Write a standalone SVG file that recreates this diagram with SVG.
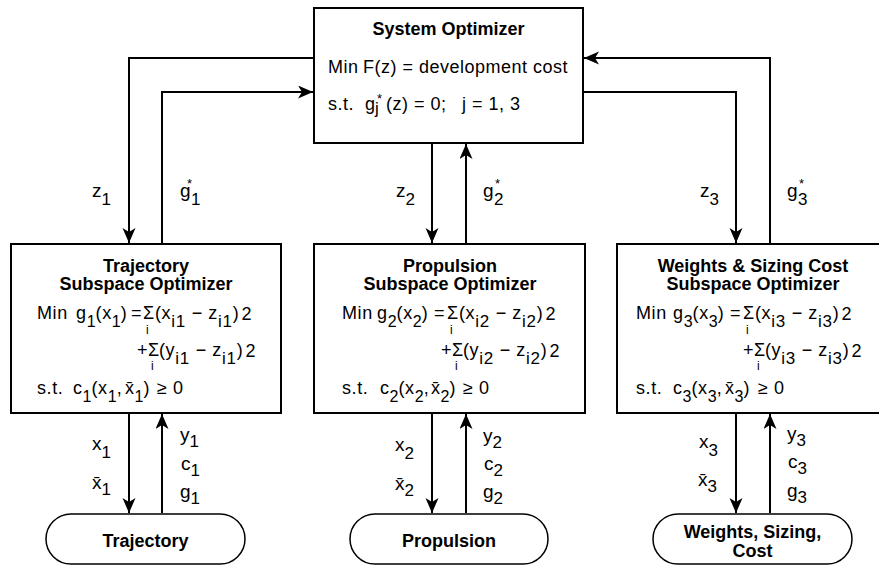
<svg xmlns="http://www.w3.org/2000/svg" width="879" height="565" viewBox="0 0 879 565" xml:space="preserve">
<defs>
<style>
text { font-family: "Liberation Sans", Arial, sans-serif; fill: #000; }
.m { font-size: 18px; letter-spacing: 0.6px; }
.m18 { font-size: 18px; letter-spacing: 0.5px; }
.sb { font-size: 17px; letter-spacing: 0.8px; }
.sb1 { font-size: 16px; letter-spacing: 0px; }
.ii { font-size: 12px; }
.tt { font-size: 18px; font-weight: bold; }
.lb { font-size: 19px; }
.ls { font-size: 17px; }
.st { font-size: 13px; }
.box { fill: #fff; stroke: #000; stroke-width: 2; }
.pill { fill: #fff; stroke: #000; stroke-width: 1.5; }
.conn path { fill: none; stroke: #000; stroke-width: 2; marker-end: url(#ah); }
</style>
<marker id="ah" markerUnits="userSpaceOnUse" markerWidth="16" markerHeight="14" refX="15" refY="6.5" orient="auto">
<path d="M0,0 L15,6.5 L0,13 L4,6.5 Z" fill="#000"/>
</marker>
</defs>
<rect width="879" height="565" fill="#fff"/>

<g id="connectors" class="conn">
<path d="M314,58 H129 V243"/>
<path d="M162,243 V92 H313"/>
<path d="M432,144 V243"/>
<path d="M466,243 V144"/>
<path d="M584,92 H736 V243"/>
<path d="M770,243 V58 H584"/>
<path d="M129,414 V513"/>
<path d="M162,513 V414"/>
<path d="M432,414 V513"/>
<path d="M466,513 V414"/>
<path d="M736,414 V513"/>
<path d="M770,513 V414"/>
</g>

<g id="system-optimizer">
<rect class="box" x="314" y="8" width="269" height="135"/>
<text class="tt" x="448.5" y="35" text-anchor="middle">System Optimizer</text>
<text class="m18" x="328" y="73">Min</text>
<text class="m18" x="363" y="73">F(z) = development cost</text>
<text class="m18" x="328" y="110">s.t.</text>
<text class="m18" x="365" y="110">g<tspan class="sb" x="375" y="114">j</tspan><tspan class="st" x="377" y="103">*</tspan></text>
<text class="m18" x="386" y="110">(z) = 0;</text>
<text class="m18" x="462" y="110">j = 1, 3</text>
</g>

<g id="labels-top">
<text class="lb" x="92" y="197">z<tspan class="ls" dy="8">1</tspan></text>
<text class="lb" x="180" y="197">g<tspan class="ls" x="191" y="205">1</tspan><tspan class="st" x="187" y="188">*</tspan></text>
<text class="lb" x="396" y="197">z<tspan class="ls" dy="8">2</tspan></text>
<text class="lb" x="483" y="197">g<tspan class="ls" x="494" y="205">2</tspan><tspan class="st" x="495" y="188">*</tspan></text>
<text class="lb" x="700" y="197">z<tspan class="ls" dy="8">3</tspan></text>
<text class="lb" x="787" y="197">g<tspan class="ls" x="798" y="205">3</tspan><tspan class="st" x="799" y="188">*</tspan></text>
</g>

<g id="trajectory-optimizer">
<rect class="box" x="11" y="244" width="270" height="169"/>
<text class="tt" x="146" y="272" text-anchor="middle">Trajectory</text>
<text class="tt" x="146" y="290" text-anchor="middle">Subspace Optimizer</text>
<text class="m" x="37" y="319">Min</text>
<text class="m" x="76" y="319">g<tspan class="sb1" dy="8">1</tspan><tspan dy="-8">(x</tspan><tspan class="sb1" dy="8">1</tspan><tspan dy="-8">)</tspan></text>
<text class="m" x="131" y="319">=</text>
<text class="m" x="143" y="319">Σ</text>
<text class="ii" x="146" y="334">i</text>
<text class="m" x="155" y="319">(x<tspan class="sb" dy="8">i1</tspan><tspan dy="-8"> − z</tspan><tspan class="sb" dy="8">i1</tspan><tspan dy="-8">)</tspan><tspan dx="2" dy="1">2</tspan></text>
<text class="m" x="137" y="356">+</text>
<text class="m" x="148" y="356">Σ</text>
<text class="ii" x="151" y="370">i</text>
<text class="m" x="159" y="356">(y<tspan class="sb" dy="8">i1</tspan><tspan dy="-8"> − z</tspan><tspan class="sb" dy="8">i1</tspan><tspan dy="-8">)</tspan><tspan dx="2" dy="1">2</tspan></text>
<text class="m" x="37" y="394">s.t.</text>
<text class="m" x="73" y="394">c<tspan class="sb1" dy="8">1</tspan><tspan dy="-8">(x</tspan><tspan class="sb1" dy="8">1</tspan><tspan dy="-8">,</tspan></text>
<text class="m" x="125" y="394">x̄<tspan class="sb1" dy="8">1</tspan><tspan dy="-8">)</tspan></text>
<text class="m" x="157" y="394">≥ 0</text>
</g>

<g id="propulsion-optimizer">
<rect class="box" x="314" y="244" width="271" height="169"/>
<text class="tt" x="450" y="272" text-anchor="middle">Propulsion</text>
<text class="tt" x="450" y="290" text-anchor="middle">Subspace Optimizer</text>
<text class="m" x="342" y="319">Min</text>
<text class="m" x="377" y="319">g<tspan class="sb1" dy="8">2</tspan><tspan dy="-8">(x</tspan><tspan class="sb1" dy="8">2</tspan><tspan dy="-8">)</tspan></text>
<text class="m" x="434" y="319">=</text>
<text class="m" x="447" y="319">Σ</text>
<text class="ii" x="450" y="334">i</text>
<text class="m" x="459" y="319">(x<tspan class="sb" dy="8">i2</tspan><tspan dy="-8"> − z</tspan><tspan class="sb" dy="8">i2</tspan><tspan dy="-8">)</tspan><tspan dx="2" dy="1">2</tspan></text>
<text class="m" x="441" y="356">+</text>
<text class="m" x="452" y="356">Σ</text>
<text class="ii" x="455" y="370">i</text>
<text class="m" x="463" y="356">(y<tspan class="sb" dy="8">i2</tspan><tspan dy="-8"> − z</tspan><tspan class="sb" dy="8">i2</tspan><tspan dy="-8">)</tspan><tspan dx="2" dy="1">2</tspan></text>
<text class="m" x="342" y="394">s.t.</text>
<text class="m" x="380" y="394">c<tspan class="sb1" dy="8">2</tspan><tspan dy="-8">(x</tspan><tspan class="sb1" dy="8">2</tspan><tspan dy="-8">,</tspan></text>
<text class="m" x="431" y="394">x̄<tspan class="sb1" dy="8">2</tspan><tspan dy="-8">)</tspan></text>
<text class="m" x="463" y="394">≥ 0</text>
</g>

<g id="weights-optimizer">
<rect class="box" x="617" y="244" width="271" height="169"/>
<text class="tt" x="753" y="272" text-anchor="middle">Weights &amp; Sizing Cost</text>
<text class="tt" x="753" y="290" text-anchor="middle">Subspace Optimizer</text>
<text class="m" x="636" y="319">Min</text>
<text class="m" x="673" y="319">g<tspan class="sb1" dy="8">3</tspan><tspan dy="-8">(x</tspan><tspan class="sb1" dy="8">3</tspan><tspan dy="-8">)</tspan></text>
<text class="m" x="730" y="319">=</text>
<text class="m" x="743" y="319">Σ</text>
<text class="ii" x="746" y="334">i</text>
<text class="m" x="755" y="319">(x<tspan class="sb" dy="8">i3</tspan><tspan dy="-8"> − z</tspan><tspan class="sb" dy="8">i3</tspan><tspan dy="-8">)</tspan><tspan dx="2" dy="1">2</tspan></text>
<text class="m" x="743" y="356">+</text>
<text class="m" x="754" y="356">Σ</text>
<text class="ii" x="757" y="370">i</text>
<text class="m" x="765" y="356">(y<tspan class="sb" dy="8">i3</tspan><tspan dy="-8"> − z</tspan><tspan class="sb" dy="8">i3</tspan><tspan dy="-8">)</tspan><tspan dx="2" dy="1">2</tspan></text>
<text class="m" x="636" y="394">s.t.</text>
<text class="m" x="673" y="394">c<tspan class="sb1" dy="8">3</tspan><tspan dy="-8">(x</tspan><tspan class="sb1" dy="8">3</tspan><tspan dy="-8">,</tspan></text>
<text class="m" x="725" y="394">x̄<tspan class="sb1" dy="8">3</tspan><tspan dy="-8">)</tspan></text>
<text class="m" x="758" y="394">≥ 0</text>
</g>

<g id="labels-bottom">
<text class="lb" x="92" y="450">x<tspan class="ls" dy="8">1</tspan></text>
<text class="lb" x="92" y="489">x̄<tspan class="ls" dy="6">1</tspan></text>
<text class="lb" x="180" y="441">y<tspan class="ls" dy="6">1</tspan></text>
<text class="lb" x="181" y="470">c<tspan class="ls" dy="6">1</tspan></text>
<text class="lb" x="180" y="498">g<tspan class="ls" dy="6">1</tspan></text>
<text class="lb" x="395" y="451">x<tspan class="ls" dy="8">2</tspan></text>
<text class="lb" x="395" y="490">x̄<tspan class="ls" dy="6">2</tspan></text>
<text class="lb" x="483" y="442">y<tspan class="ls" dy="6">2</tspan></text>
<text class="lb" x="484" y="470">c<tspan class="ls" dy="6">2</tspan></text>
<text class="lb" x="483" y="498">g<tspan class="ls" dy="6">2</tspan></text>
<text class="lb" x="699" y="448">x<tspan class="ls" dy="8">3</tspan></text>
<text class="lb" x="698" y="486">x̄<tspan class="ls" dy="6">3</tspan></text>
<text class="lb" x="787" y="440">y<tspan class="ls" dy="6">3</tspan></text>
<text class="lb" x="788" y="468">c<tspan class="ls" dy="6">3</tspan></text>
<text class="lb" x="787" y="497">g<tspan class="ls" dy="6">3</tspan></text>
</g>

<g id="trajectory">
<rect class="pill" x="46" y="514" width="199" height="50" rx="25"/>
<text class="tt" x="145.5" y="547" text-anchor="middle">Trajectory</text>
</g>
<g id="propulsion">
<rect class="pill" x="350" y="514" width="198" height="50" rx="25"/>
<text class="tt" x="449" y="547" text-anchor="middle">Propulsion</text>
</g>
<g id="weights-sizing-cost">
<rect class="pill" x="653" y="514" width="199" height="50" rx="25"/>
<text class="tt" x="752.5" y="538" text-anchor="middle">Weights, Sizing,</text>
<text class="tt" x="752.5" y="557" text-anchor="middle">Cost</text>
</g>
</svg>
